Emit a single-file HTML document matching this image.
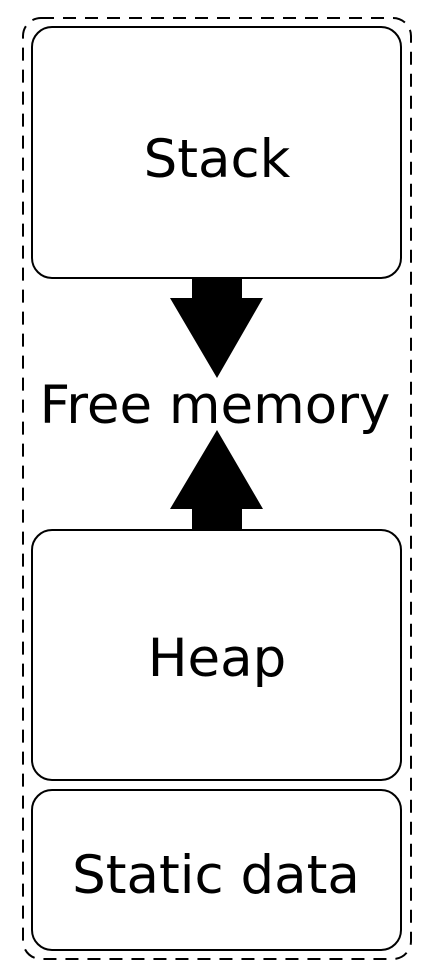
<!DOCTYPE html>
<html><head><style>html,body{margin:0;padding:0;background:#fff}</style></head>
<body>
<svg width="428" height="968" viewBox="0 0 428 968" xmlns="http://www.w3.org/2000/svg">
<rect x="23" y="18" width="388" height="941" rx="18" fill="none" stroke="#000" stroke-width="2" stroke-dasharray="13 9"/>
<rect x="32" y="27" width="369" height="251" rx="20" fill="#fff" stroke="#000" stroke-width="2"/>
<rect x="32" y="530" width="369" height="250" rx="20" fill="#fff" stroke="#000" stroke-width="2"/>
<rect x="32" y="790" width="369" height="160" rx="20" fill="#fff" stroke="#000" stroke-width="2"/>
<polygon points="192,279 242,279 242,298 263,298 217,378 170,298 192,298" fill="#000"/>
<polygon points="192,529 242,529 242,509 263,509 217,430 170,509 192,509" fill="#000"/>
<g font-family="'DejaVu Sans','Liberation Sans',sans-serif" font-size="53" text-anchor="middle" fill="#000">
<text x="217" y="177">Stack</text>
<text x="215" y="423">Free memory</text>
<text x="217" y="676">Heap</text>
<text x="216" y="893">Static data</text>
</g>
</svg>
</body></html>
